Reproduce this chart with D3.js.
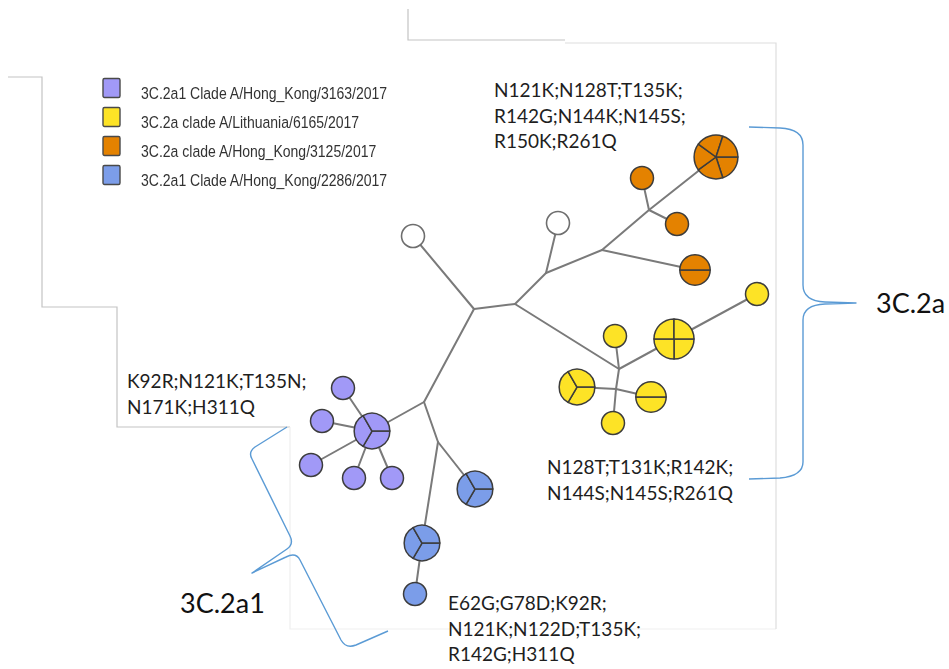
<!DOCTYPE html>
<html>
<head>
<meta charset="utf-8">
<script src="https://cdn.jsdelivr.net/npm/d3@7"></script>
<style>
  html, body { margin: 0; padding: 0; background: #fff; }
  svg { display: block; }
</style>
</head>
<body>
<script>
// ---- Traits (legend) ----
const traits = [
  "3C.2a1 Clade A/Hong_Kong/3163/2017",
  "3C.2a clade A/Lithuania/6165/2017",
  "3C.2a clade A/Hong_Kong/3125/2017",
  "3C.2a1 Clade A/Hong_Kong/2286/2017"
];
const traitColors = ["#a199f7", "#fde326", "#e48200", "#7b9de9"];

// ---- Haplotypes: trait index and number of sequences ----
const hapIds    = ["P3","P1a","P1b","P1c","P1d","P1e","B3a","B3b","B1","Y4","Y3","Y2","Y1t","Y1b","Y1r","O5","O2","O1a","O1b"];
const hapTraits = [0,   0,    0,    0,    0,    0,    3,    3,    3,   1,   1,   1,   1,    1,    1,    2,   2,   2,    2];
const hapCounts = [3,   1,    1,    1,    1,    1,    3,    3,    1,   4,   3,   2,   1,    1,    1,    5,   2,   1,    1];

// inferred median vectors (drawn as empty circles) and unlabelled branch points
const medianVectors = ["mvL", "mvT"];
const branchPoints  = ["A","B","C","D","E","F","G","Yj1","Yj2"];

// ---- Network edges ----
const edges = [
  ["A","mvL"],["A","B"],["A","C"],
  ["B","D"],["B","Yj1"],["D","mvT"],["D","E"],["E","F"],["E","O2"],
  ["F","O5"],["F","O1a"],["F","O1b"],
  ["Yj1","Y1t"],["Yj1","Y4"],["Y4","Y1r"],["Yj1","Yj2"],
  ["Yj2","Y3"],["Yj2","Y2"],["Yj2","Y1b"],
  ["C","P3"],["C","G"],
  ["P3","P1a"],["P3","P1b"],["P3","P1c"],["P3","P1d"],["P3","P1e"],
  ["G","B3a"],["G","B3b"],["B3b","B1"]
];

// ---- Network layout (units relative to the central branch point) ----
const layout = {
  A:[0,0], mvL:[-61,-73], B:[41,-5], C:[-50,93], D:[72,-36], mvT:[84,-86],
  E:[128,-59], F:[175,-99], O5:[242,-152], O1a:[168,-131], O1b:[203,-85], O2:[221,-39],
  Yj1:[145,60], Y1t:[141,27], Y4:[200,30], Y1r:[283,-15], Yj2:[142,80],
  Y3:[103,78], Y2:[177,88], Y1b:[139,114],
  P3:[-102,122], P1a:[-131,79], P1b:[-152,112], P1c:[-163,156], P1d:[-120,169], P1e:[-82,169],
  G:[-36,133], B3a:[1,180], B3b:[-52,234], B1:[-59,285]
};

// ---- Mutation annotations ----
const mutationLabels = [
  {lines:["N121K;N128T;T135K;","R142G;N144K;N145S;","R150K;R261Q"], at:[20,-212]},
  {lines:["N128T;T131K;R142K;","N144S;N145S;R261Q"], at:[73,165]},
  {lines:["K92R;N121K;T135N;","N171K;H311Q"], at:[-347,79]},
  {lines:["E62G;G78D;K92R;","N121K;N122D;T135K;","R142G;H311Q"], at:[-26,301]}
];
const cladeLabels = [
  {text:"3C.2a",  at:[402,4]},
  {text:"3C.2a1", at:[-294,304]}
];

const W = 949, H = 669;
const svg = d3.select("body").append("svg").attr("width", W).attr("height", H);
svg.append("rect").attr("width", W).attr("height", H).attr("fill", "#fff");

const x = d3.scaleLinear().domain([-200, 300]).range([274, 774]);
const y = d3.scaleLinear().domain([-200, 300]).range([109, 609]);
const r = d3.scalePow().exponent(0.4).domain([0, 1]).range([0, 11.5]);

// ---- Panel frame lines ----
const frame = svg.append("g").attr("fill", "none").attr("stroke-width", 1.2);
const seg = (pts, col) => frame.append("path").attr("d", d3.line()(pts)).attr("stroke", col);
seg([[8,77],[42,77],[42,307],[117,307],[117,427],[290,427]], "#c4c4c4");
seg([[290,427],[290,629],[776,629]], "#efefef");
seg([[408,9],[408,40],[565,40]], "#c4c4c4");
seg([[565,43],[776,43],[776,629]], "#dedede");

// ---- Legend ----
const defs = svg.append("defs");
defs.append("filter").attr("id", "soft").append("feGaussianBlur").attr("stdDeviation", 0.45);
const ly = d3.scalePoint().domain(traits).range([88, 175]);
const legend = svg.append("g").attr("filter", "url(#soft)");
const lrow = legend.selectAll("g").data(traits).join("g")
  .attr("transform", d => `translate(103,${ly(d)})`);
lrow.append("rect").attr("x", 0).attr("y", -9.5).attr("width", 17).attr("height", 19).attr("rx", 1.5)
  .attr("fill", (d, i) => traitColors[i]).attr("stroke", "#4a4a4a").attr("stroke-width", 1.4);
lrow.append("text").attr("transform", "translate(38,11) scale(0.85,1)")
  .attr("font-family", "Liberation Sans, Arial, sans-serif").attr("font-size", 16.5)
  .attr("fill", "#333").text(d => d);

// ---- Edges ----
svg.append("g").attr("stroke", "#7a7a7a").attr("stroke-width", 2).attr("stroke-linecap", "round")
  .selectAll("line").data(edges).join("line")
  .attr("x1", d => x(layout[d[0]][0])).attr("y1", d => y(layout[d[0]][1]))
  .attr("x2", d => x(layout[d[1]][0])).attr("y2", d => y(layout[d[1]][1]));

// ---- Median vectors ----
svg.append("g").selectAll("circle").data(medianVectors).join("circle")
  .attr("cx", d => x(layout[d][0])).attr("cy", d => y(layout[d][1])).attr("r", r(1))
  .attr("fill", "#fff").attr("stroke", "#6e6e6e").attr("stroke-width", 1.6);

// ---- Haplotype pies: one slice per sequence, first boundary pointing right ----
const pie = d3.pie().sort(null).value(1).startAngle(Math.PI / 2).endAngle(Math.PI / 2 + 2 * Math.PI);
const haps = hapIds.map((id, i) => ({id, trait: hapTraits[i], count: hapCounts[i]}));
const hg = svg.append("g").selectAll("g").data(haps).join("g")
  .attr("transform", d => `translate(${x(layout[d.id][0])},${y(layout[d.id][1])})`);
hg.each(function(d) {
  const arc = d3.arc().innerRadius(0).outerRadius(r(d.count));
  d3.select(this).selectAll("path").data(pie(d3.range(d.count))).join("path")
    .attr("d", arc).attr("fill", traitColors[d.trait])
    .attr("stroke", "#3c3c3c").attr("stroke-width", 1.5).attr("stroke-linejoin", "round");
});

// ---- Mutation labels ----
const tg = svg.append("g").attr("font-family", "Lato, 'Open Sans', sans-serif").attr("font-size", 19).attr("fill", "#1e1e1e");
mutationLabels.forEach(m => {
  const t = tg.append("text").attr("x", x(m.at[0])).attr("y", y(m.at[1]));
  t.selectAll("tspan").data(m.lines).join("tspan")
    .attr("x", x(m.at[0])).attr("dy", (d, i) => i === 0 ? 0 : 25.5).text(d => d);
});

// ---- Clade braces ----
const braces = svg.append("g").attr("fill", "none").attr("stroke", "#5b9bd5").attr("stroke-width", 1.4)
  .attr("stroke-linejoin", "round");
// right brace (3C.2a)
braces.append("path").attr("d",
  "M749,127 L780,128 Q803,129 803,145 L803,285 Q803,301 825,302 L856,303 " +
  "L825,304 Q803,305 803,320 L803,462 Q803,476 780,478 L749,479");
// left brace (3C.2a1)
braces.append("path").attr("d",
  "M287,427 L255,447 Q248,452 252,459 L290,536 Q294,544 287,549 L252,573 " +
  "L286,557 Q296,552 300,560 L341,640 Q346,649 356,645 L388,631");

// ---- Clade labels ----
svg.append("g").attr("font-family", "Lato, 'Open Sans', sans-serif").attr("font-size", 27).attr("fill", "#111")
  .selectAll("text").data(cladeLabels).join("text")
  .attr("x", d => x(d.at[0])).attr("y", d => y(d.at[1])).text(d => d.text);
</script>
</body>
</html>
